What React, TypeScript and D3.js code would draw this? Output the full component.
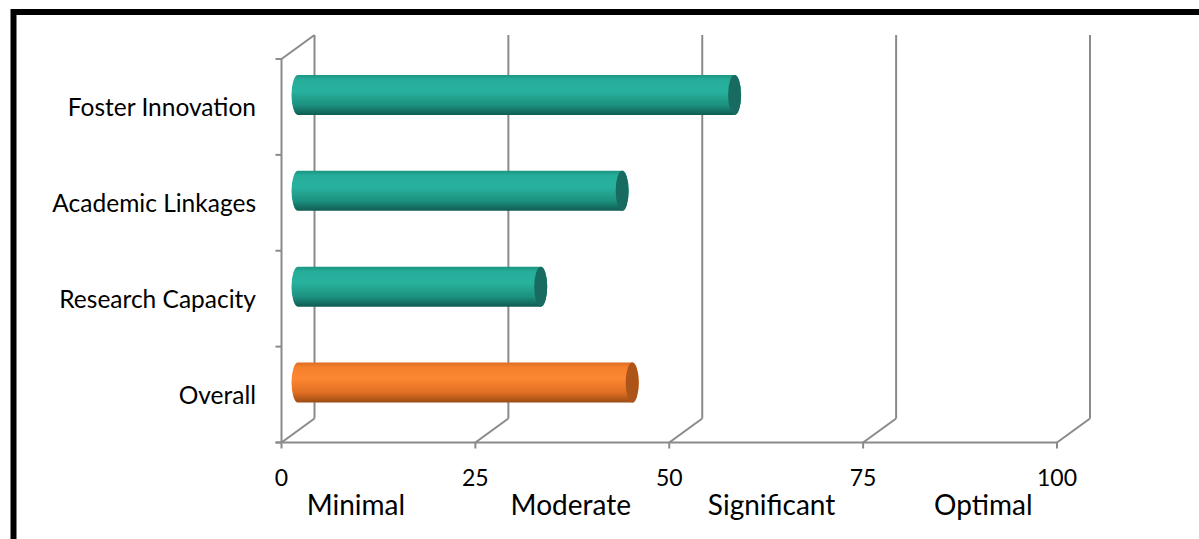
import React from "react";
import * as d3 from "d3";

const categories = ["Foster Innovation", "Academic Linkages", "Research Capacity", "Overall"];
const values = [56.3, 41.8, 31.3, 43.1];
const isOverall = [false, false, false, true];
const xTicks = [0, 25, 50, 75, 100];
const levelLabels = ["Minimal", "Moderate", "Significant", "Optimal"];

const W = 1199;
const H = 539;
const FONT = "Lato, 'Open Sans', sans-serif";

export default function App() {
  const x = d3.scaleLinear().domain([0, 100]).range([281.5, 1057]);
  const y = d3.scaleBand<string>().domain(categories).range([59, 442.5]).padding(0);
  const DX = 33;
  const DY = 24;
  const floorY = 442.5;
  const topY = 35;
  const barH = 40;
  const grid = "#8a8a8a";

  // level label centres (layout, in data units)
  const levelPos = [9.6, 37.3, 63.2, 90.5];

  const bandEdges = categories.map((c) => y(c)!).concat([y.range()[1]]);

  return (
    <svg
      width={W}
      height={H}
      style={{ position: "absolute", left: 0, top: 0, background: "#fff" }}
    >
      <defs>
        <linearGradient id="teal" x1="0" y1="0" x2="0" y2="1">
          <stop offset="0%" stopColor="#1c9584" />
          <stop offset="12%" stopColor="#26ad99" />
          <stop offset="40%" stopColor="#27b29e" />
          <stop offset="75%" stopColor="#1d917f" />
          <stop offset="100%" stopColor="#0f5c52" />
        </linearGradient>
        <linearGradient id="orange" x1="0" y1="0" x2="0" y2="1">
          <stop offset="0%" stopColor="#dc6e22" />
          <stop offset="12%" stopColor="#f5802c" />
          <stop offset="40%" stopColor="#fd8732" />
          <stop offset="75%" stopColor="#e06f22" />
          <stop offset="100%" stopColor="#9a4a14" />
        </linearGradient>
      </defs>

      {/* outer frame */}
      <rect x={13.5} y={12} width={1400} height={700} fill="none" stroke="#000" strokeWidth={6} />

      {/* back wall gridlines + floor diagonals */}
      {xTicks.map((t) => (
        <g key={"g" + t}>
          <line x1={x(t) + DX} x2={x(t) + DX} y1={topY} y2={floorY - DY} stroke={grid} strokeWidth={2} />
          <line x1={x(t) + DX} x2={x(t)} y1={floorY - DY} y2={floorY} stroke={grid} strokeWidth={2} />
        </g>
      ))}

      {/* left wall */}
      <line x1={x(0)} x2={x(0)} y1={topY + DY} y2={floorY} stroke={grid} strokeWidth={2} />
      <line x1={x(0)} x2={x(0) + DX} y1={topY + DY} y2={topY} stroke={grid} strokeWidth={2} />
      {bandEdges.map((e, i) => (
        <line key={"yt" + i} x1={x(0) - 6} x2={x(0)} y1={e} y2={e} stroke={grid} strokeWidth={2} />
      ))}

      {/* floor front edge */}
      <line x1={x(0) - 6} x2={x(100)} y1={floorY} y2={floorY} stroke={grid} strokeWidth={2} />
      {xTicks.map((t) => (
        <line key={"xt" + t} x1={x(t)} x2={x(t)} y1={floorY} y2={floorY + 6} stroke={grid} strokeWidth={2} />
      ))}

      {/* bars as cylinders */}
      {categories.map((c, i) => {
        const cy = y(c)! + y.bandwidth() / 2 - DY / 2;
        const x0 = x(0) + DX / 2;
        const x1 = x(values[i]) + DX / 2;
        const ry = barH / 2;
        const rx = 6.5;
        const top = cy - ry;
        const bot = cy + ry;
        const d = `M${x0},${top} L${x1},${top} A${rx},${ry} 0 0 1 ${x1},${bot} L${x0},${bot} A${rx},${ry} 0 0 1 ${x0},${top} Z`;
        return (
          <g key={c}>
            <path d={d} fill={isOverall[i] ? "url(#orange)" : "url(#teal)"} />
            <ellipse cx={x1} cy={cy} rx={rx} ry={ry} fill={isOverall[i] ? "#ad5419" : "#176b61"} />
          </g>
        );
      })}

      {/* category labels */}
      {categories.map((c) => (
        <text
          key={"l" + c}
          x={256}
          y={y(c)! + y.bandwidth() / 2}
          textAnchor="end"
          dominantBaseline="central"
          fontFamily={FONT}
          fontSize={24.5}
          fill="#000"
        >
          {c}
        </text>
      ))}

      {/* x tick labels */}
      {xTicks.map((t) => (
        <text key={"xl" + t} x={x(t)} y={486} textAnchor="middle" fontFamily={FONT} fontSize={23} fill="#000">
          {t}
        </text>
      ))}

      {/* level labels */}
      {levelLabels.map((l, i) => (
        <text key={l} x={x(levelPos[i])} y={515} textAnchor="middle" fontFamily={FONT} fontSize={28} fill="#000">
          {l}
        </text>
      ))}
    </svg>
  );
}
